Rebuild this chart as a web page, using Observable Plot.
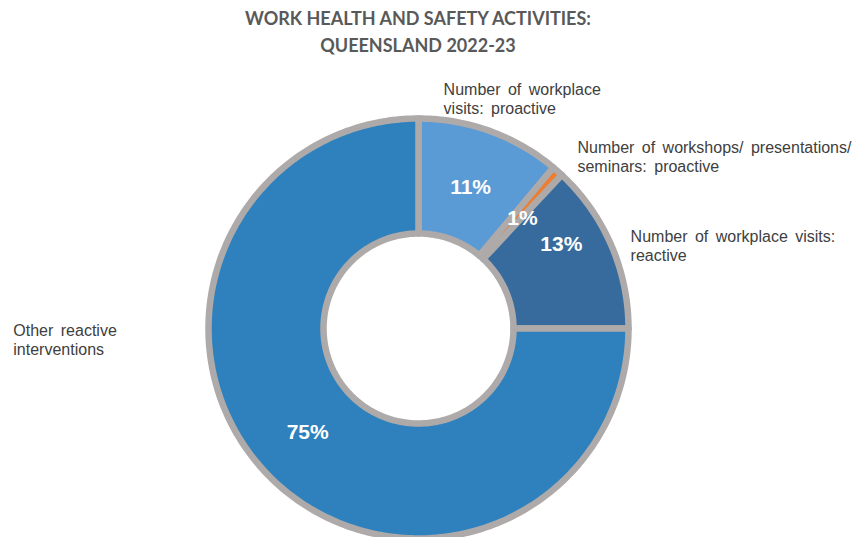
<!DOCTYPE html>
<html><head><meta charset="utf-8">
<script src="https://cdn.jsdelivr.net/npm/d3@7"></script>
<script src="https://cdn.jsdelivr.net/npm/@observablehq/plot@0.6"></script>
<style>
html,body{margin:0;padding:0;background:#fff;}
#title{box-sizing:border-box;width:856px;height:60px;padding:5px 20px 0 0;text-align:center;font-family:Lato,"Open Sans",sans-serif;font-weight:700;font-size:18px;line-height:27px;color:#595959;}
#chart svg{display:block;}
</style></head><body>
<div id="title">WORK HEALTH AND SAFETY ACTIVITIES:<br>QUEENSLAND 2022-23</div>
<div id="chart"></div>
<script>
// ---- data ----
const categories = [
  "Number of workplace visits: proactive",
  "Number of workshops/ presentations/ seminars: proactive",
  "Number of workplace visits: reactive",
  "Other reactive interventions"
];
const shares = [11.1, 0.85, 13.05, 75.0];
const categoryLabels = [
  "Number of workplace\nvisits: proactive",
  "Number of workshops/ presentations/\nseminars: proactive",
  "Number of workplace visits:\nreactive",
  "Other reactive\ninterventions"
];

// ---- styles / layout ----
const sliceColors = ["#5B9BD5", "#ED7D31", "#386B9D", "#2E81BC"];
const borderColor = "#AEAAAA";
const innerRatio = 95 / 210;
const labelRadius = 1.2;
const labelDx = [-61, -8, -19, -227];
const labelDy = [-11, -1, 0, -185];
const pctDx = [0, 3, 3, -3];
const pctDy = [2, 4, -23, -4];

const total = d3.sum(shares);
let cum = 0;
const slices = categories.map((c, i) => {
  const a0 = cum / total * 2 * Math.PI;
  cum += shares[i];
  const a1 = cum / total * 2 * Math.PI;
  return {category: c, share: shares[i], label: categoryLabels[i], a0, a1, mid: (a0 + a1) / 2};
});

const ring = slices.flatMap(s => {
  const n = Math.max(2, Math.ceil((s.a1 - s.a0) / (2 * Math.PI) * 360));
  const angles = d3.range(n + 1).map(k => s.a0 + (s.a1 - s.a0) * k / n);
  const pts = [
    ...angles.map(a => ({category: s.category, x: Math.sin(a), y: Math.cos(a)})),
    ...angles.slice().reverse().map(a => ({category: s.category, x: innerRatio * Math.sin(a), y: innerRatio * Math.cos(a)}))
  ];
  pts.push(pts[0]);
  return pts;
});

const midR = (1 + innerRatio) / 2;

const chart = Plot.plot({
  width: 856,
  height: 477,
  x: {domain: [-1, 1], range: [208, 628], axis: null},
  y: {domain: [-1, 1], range: [478, 58], axis: null},
  color: {domain: categories, range: sliceColors},
  style: {fontFamily: "'Liberation Sans', Arial, sans-serif", background: "white", overflow: "visible", wordSpacing: "3px"},
  marks: [
    Plot.line(ring, {x: "x", y: "y", z: "category", fill: "category", stroke: borderColor, strokeWidth: 6.5, strokeLinejoin: "round", strokeLinecap: "round"}),
    ...slices.map((s, i) => Plot.text([s], {
      x: d => midR * Math.sin(d.mid), y: d => midR * Math.cos(d.mid),
      text: d => `${Math.round(d.share)}%`, fill: "white", fontSize: 21, fontWeight: "bold", dx: pctDx[i], dy: pctDy[i]
    })),
    ...slices.map((s, i) => Plot.text([s], {
      x: d => labelRadius * Math.sin(d.mid), y: d => labelRadius * Math.cos(d.mid),
      text: "label", textAnchor: "start", lineAnchor: "top", lineHeight: 1.22,
      fontSize: 16, fill: "#404040", dx: labelDx[i], dy: labelDy[i]
    }))
  ]
});
document.getElementById("chart").appendChild(chart);
</script>
</body></html>
